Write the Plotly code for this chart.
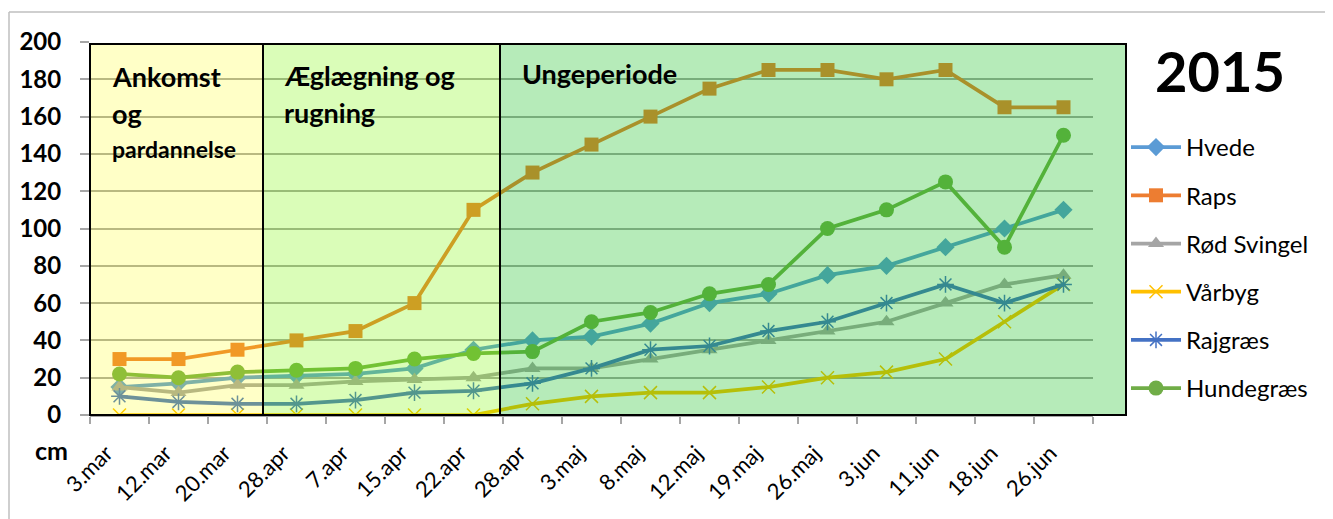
import plotly.graph_objects as go

categories = ["3.mar", "12.mar", "20.mar", "28.apr", "7.apr", "15.apr", "22.apr", "28.apr",
              "3.maj", "8.maj", "12.maj", "19.maj", "26.maj", "3.jun", "11.jun", "18.jun", "26.jun"]

hvede = [15, 17, 20, 21, 22, 25, 35, 40, 42, 49, 60, 65, 75, 80, 90, 100, 110]
raps = [30, 30, 35, 40, 45, 60, 110, 130, 145, 160, 175, 185, 185, 180, 185, 165, 165]
rod_svingel = [15, 12, 16, 16, 18, 19, 20, 25, 25, 30, 35, 40, 45, 50, 60, 70, 75]
vaarbyg = [0, 0, 0, 0, 0, 0, 0, 6, 10, 12, 12, 15, 20, 23, 30, 50, 70]
rajgraes = [10, 7, 6, 6, 8, 12, 13, 17, 25, 35, 37, 45, 50, 60, 70, 60, 70]
hundegraes = [22, 20, 23, 24, 25, 30, 33, 34, 50, 55, 65, 70, 100, 110, 125, 90, 150]

series = [
    ("Hvede", hvede, "#5B9BD5", "diamond", 14),
    ("Raps", raps, "#ED7D31", "square", 14),
    ("Rød Svingel", rod_svingel, "#A5A5A5", "triangle-up", 14),
    ("Vårbyg", vaarbyg, "#FFC000", "x-thin", 13),
    ("Rajgræs", rajgraes, "#4472C4", "asterisk", 14),
    ("Hundegræs", hundegraes, "#70AD47", "circle", 15),
]

xs = list(range(len(categories)))
FONT = "Lato"

fig = go.Figure()
for i, (name, vals, col, sym, size) in enumerate(series):
    marker = dict(symbol=sym, size=size, color=col)
    if sym in ("x-thin", "asterisk"):
        marker["line"] = dict(color=col, width=1.5)
    fig.add_trace(go.Scatter(
        x=xs, y=vals, name=name, mode="lines+markers",
        line=dict(color=col, width=3.75), marker=marker,
        legendgroup=f"g{i}",
    ))

# page offset (body margin) and plot area in screen pixels
OFF = 8
FW, FH = 1333 - OFF, 519 - OFF
L, R, T, B = 90, 1093, 42, 415
W, H = R - L, B - T


def px(x):
    return (x - L) / W


def py(y):
    return (B - y) / H


shapes = [
    dict(type="rect", xref="paper", yref="paper", x0=px(90), x1=px(263), y0=0, y1=py(44),
         fillcolor="rgba(255,255,0,0.22)", line=dict(color="black", width=2), layer="above"),
    dict(type="rect", xref="paper", yref="paper", x0=px(263), x1=px(500), y0=0, y1=py(44),
         fillcolor="rgba(123,248,0,0.28)", line=dict(color="black", width=2), layer="above"),
    dict(type="rect", xref="paper", yref="paper", x0=px(500), x1=px(1126), y0=0, y1=py(44),
         fillcolor="rgba(20,190,30,0.31)", line=dict(color="black", width=2), layer="above"),
    # chart outer border (left & top)
    dict(type="line", xref="paper", yref="paper", x0=px(OFF + 1), x1=px(OFF + 1), y0=py(12), y1=py(519),
         line=dict(color="#BFBFBF", width=1.5)),
    dict(type="line", xref="paper", yref="paper", x0=px(OFF + 1), x1=px(1333), y0=py(12), y1=py(12),
         line=dict(color="#BFBFBF", width=1.5)),
]

annotations = [
    dict(text="<b>Ankomst</b>", x=px(110), y=py(77), font=dict(size=27)),
    dict(text="<b>og</b>", x=px(110), y=py(113), font=dict(size=27)),
    dict(text="<b>pardannelse</b>", x=px(110), y=py(149), font=dict(size=23)),
    dict(text="<b>Æglægning og</b>", x=px(282), y=py(76), font=dict(size=27)),
    dict(text="<b>rugning</b>", x=px(282), y=py(112), font=dict(size=27)),
    dict(text="<b>Ungeperiode</b>", x=px(520), y=py(73), font=dict(size=27)),
    dict(text="<b>cm</b>", x=px(33), y=py(450), font=dict(size=25)),
    dict(text="<b>2015</b>", x=px(1153), y=py(70), font=dict(size=56)),
]
for a in annotations:
    a.update(xref="paper", yref="paper", showarrow=False, xanchor="left", yanchor="middle")
    a["font"].update(family=FONT, color="black")

fig.update_layout(
    width=FW, height=FH,
    margin=dict(l=L - OFF, r=1333 - R, t=T - OFF, b=519 - B, autoexpand=False),
    paper_bgcolor="white", plot_bgcolor="white",
    font=dict(family=FONT, color="black"),
    shapes=shapes, annotations=annotations,
    showlegend=True,
    legend=dict(x=px(1126), y=py(125), xanchor="left", yanchor="top",
                font=dict(size=24, family=FONT, color="black"),
                tracegroupgap=14, bgcolor="rgba(0,0,0,0)", itemwidth=50),
    xaxis=dict(range=[-0.5, len(categories) - 0.5], tickvals=xs, ticktext=categories,
               tickangle=-45, tickfont=dict(size=22, family=FONT, color="black"),
               ticks="", showgrid=False, zeroline=False, automargin=False,
               showline=True, linecolor="#A6A6A6", linewidth=1.5,
               ticklabelstandoff=15, ticklabelshift=-13,
               minor=dict(tickvals=[i - 0.5 for i in range(len(categories) + 1)], ticks="outside",
                          ticklen=7, tickcolor="#A6A6A6", tickwidth=1.5, showgrid=False)),
    yaxis=dict(range=[0, 200], dtick=20, tickfont=dict(size=24, family=FONT, color="black", weight="bold"),
               showgrid=True, gridcolor="#A6A6A6", gridwidth=1.5, zeroline=False, automargin=False,
               ticks="outside", ticklen=9, tickcolor="#A6A6A6", tickwidth=1.5, showline=False,
               ticklabelstandoff=14),
)

fig.write_html("out.html")
